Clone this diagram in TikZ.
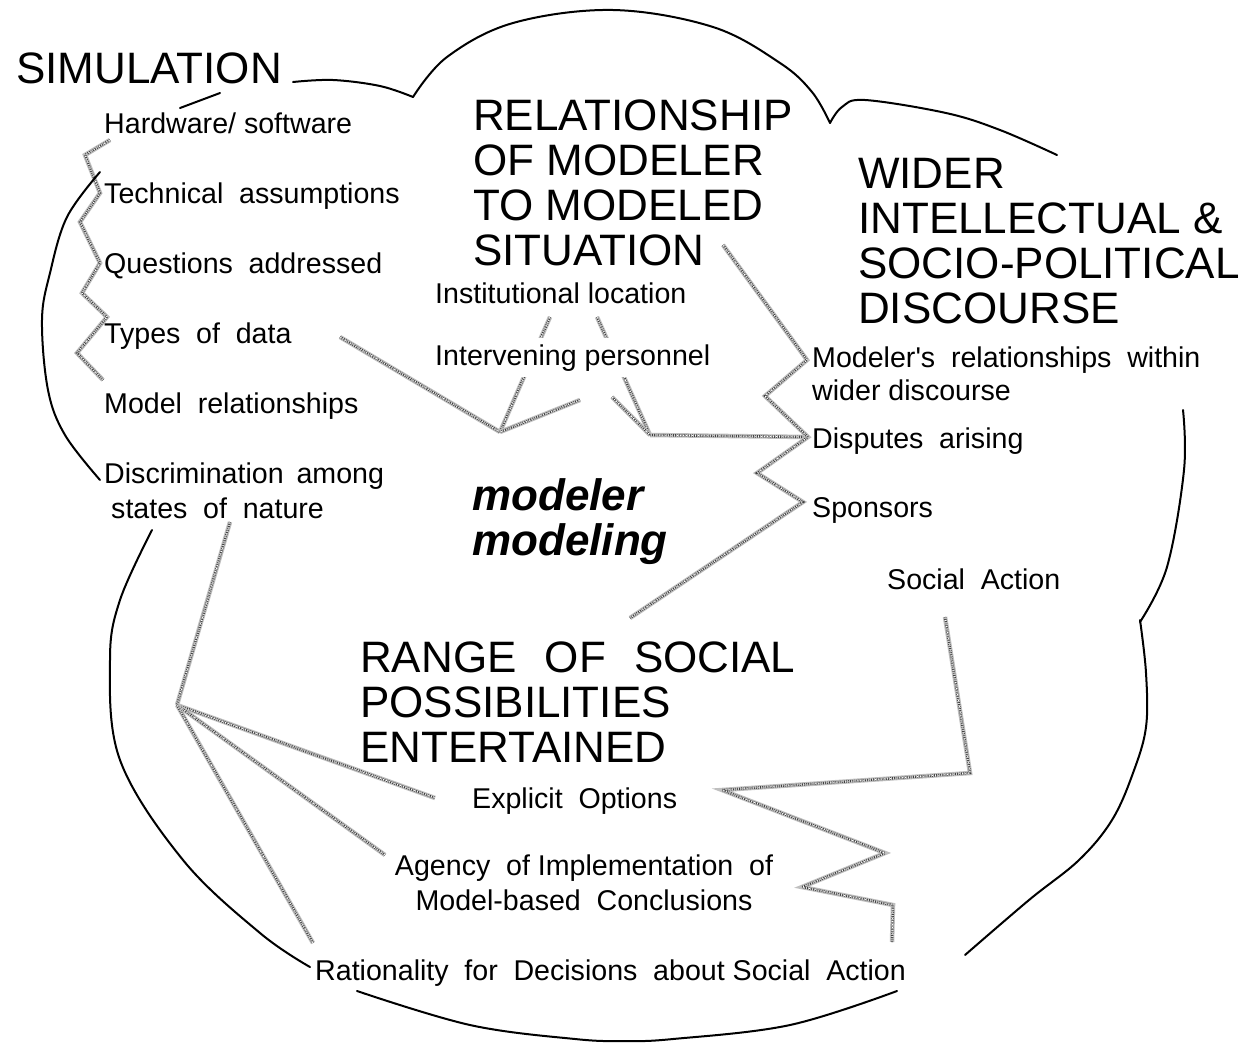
\documentclass[tikz,border=0pt]{standalone}
\usepackage{fontspec}
\setmainfont{Liberation Sans}
\newcommand{\dsp}{\hspace{0.55em}}
\begin{document}
\begin{tikzpicture}[x=1pt,y=-1pt,
 item/.style={anchor=base west, inner sep=0pt, align=left, font=\fontsize{28.6}{35}\selectfont},
 head/.style={anchor=base west, inner sep=0pt, align=left, font=\fontsize{44}{45}\selectfont},
 cloudline/.style={line width=2pt, line cap=round},
 zig/.style={draw=gray!50, line width=4.5pt, line join=miter,
   postaction={draw=black!75, line width=2.4pt, dash pattern=on 0.9pt off 1.2pt},
   postaction={draw=white, line width=0.8pt, dash pattern=on 1pt off 2pt}}]
\useasboundingbox (0,0) rectangle (1249,1042);

% ---------- named points of connectors ----------
\coordinate (z1a) at (110,140); \coordinate (z1b) at (85,155);
\coordinate (z1c) at (100,193); \coordinate (z1d) at (80,222);
\coordinate (z1e) at (100,263); \coordinate (z1f) at (82,293);
\coordinate (z1g) at (107,317); \coordinate (z1h) at (77,353);
\coordinate (z1i) at (103,380);
\coordinate (tdE) at (340,337);
\coordinate (V1) at (500,432); \coordinate (V2) at (650,435);
\coordinate (in1) at (550,317); \coordinate (in2) at (597,317);
\coordinate (ip1) at (580,400); \coordinate (ip2) at (612,397);
\coordinate (dsW) at (808,437);
\coordinate (siE) at (723,245); \coordinate (mrW) at (807,360);
\coordinate (r1) at (765,396); \coordinate (r2) at (757,473);
\coordinate (spW) at (803,502); \coordinate (rgN) at (630,618);
\coordinate (snS) at (230,522); \coordinate (V3) at (177,705);
\coordinate (eoW) at (435,798); \coordinate (agW) at (385,855);
\coordinate (raN) at (313,943);
\coordinate (saS) at (945,617); \coordinate (s1) at (970,773);
\coordinate (s2) at (722,790); \coordinate (s3) at (885,853);
\coordinate (s4) at (802,887); \coordinate (s5) at (893,905);
\coordinate (s6) at (892,942);

% ---------- connectors ----------
\draw[zig] (z1a) -- (z1b) -- (z1c) -- (z1d) -- (z1e) -- (z1f) -- (z1g) -- (z1h) -- (z1i);
\draw[zig] (tdE) -- (V1);
\draw[zig] (in1) -- (V1);
\draw[zig] (ip1) -- (V1);
\draw[zig] (in2) -- (V2);
\draw[zig] (ip2) -- (V2);
\draw[zig] (V2) -- (dsW);
\draw[zig] (siE) -- (mrW) -- (r1) -- (dsW) -- (r2) -- (spW) -- (rgN);
\draw[zig] (snS) -- (V3);
\draw[zig] (V3) -- (eoW);
\draw[zig] (V3) -- (agW);
\draw[zig] (V3) -- (raN);
\draw[zig] (saS) -- (s1) -- (s2) -- (s3) -- (s4) -- (s5) -- (s6);

% ---------- cloud outline ----------
\draw[cloudline] plot[smooth, tension=0.6] coordinates {(293,82) (333,80) (380,86) (413,97)};
\draw[cloudline] plot[smooth, tension=0.6] coordinates {(413,97) (447,57) (513,23) (613,10) (713,27) (780,63) (812,92) (830,123)};
\draw[cloudline] plot[smooth, tension=0.6] coordinates {(830,123) (842,107) (865,100) (946,113) (1000,130) (1057,155)};
\draw[cloudline] plot[smooth, tension=0.6] coordinates {(1183,410) (1184,470) (1167,567) (1140,622)};
\draw[cloudline] plot[smooth, tension=0.6] coordinates {(1140,620) (1146,673) (1146,727) (1133,773) (1112,820) (1079,860) (1029,900) (965,955)};
\draw[cloudline] plot[smooth, tension=0.6] coordinates {(357,991) (470,1025) (575,1039) (625,1041) (673,1039) (790,1025) (897,991)};
\draw[cloudline] plot[smooth, tension=0.6] coordinates {(152,530) (120,600) (110,660) (120,760) (183,860) (260,933) (310,967)};
\draw[cloudline] plot[smooth, tension=0.6] coordinates {(100,172) (67,217) (50,273) (42,320) (48,390) (65,435) (100,480)};
\draw[cloudline] (180,108) -- (220,93);

% ---------- texts ----------
\node[head] (sim) at (16,83) {SIMULATION};
\node[item] (hw) at (104,133) {Hardware/ software};
\node[item] (ta) at (104,203) {Technical\dsp assumptions};
\node[item] (qa) at (104,273) {Questions\dsp addressed};
\node[item] (td) at (104,343) {Types\dsp of\dsp data};
\node[item] (mr) at (104,413) {Model\dsp relationships};
\node[item] (dis) at (104,518) {Discrimination\hspace{0.45em}among\\\hspace{7pt}states\dsp of\dsp nature};

\node[head] (rel) at (473,265) {RELATIONSHIP\\OF MODELER\\TO MODELED\\SITUATION};
\node[item] (inst) at (435,303) {Institutional location};
\node[item, fill=white, inner xsep=4pt, inner ysep=6pt] (interv) at (431,365) {Intervening personnel};

\node[head] (wid) at (858,323) {WIDER\\INTELLECTUAL \&\\SOCIO-POLITICAL\\DISCOURSE};
\node[item, font=\fontsize{28.6}{33}\selectfont] (mrel) at (812,400) {Modeler\textquotesingle s\dsp relationships\dsp within\\wider discourse};
\node[item] (disp) at (812,448) {Disputes\dsp arising};
\node[item] (spon) at (812,517) {Sponsors};
\node[item] (sact) at (887,589) {Social\dsp Action};

\node[head, font=\fontsize{44}{45}\selectfont\bfseries\itshape] (mm) at (472,555) {modeler\\modeling};

\node[head] (rng) at (360,762) {RANGE\hspace{0.64em}OF\hspace{0.64em}SOCIAL\\POSSIBILITIES\\ENTERTAINED};
\node[item] (eo) at (472,808) {Explicit\dsp Options};
\node[item, anchor=base, align=center] (ag) at (584,910) {Agency\dsp of Implementation\dsp of\\Model-based\dsp Conclusions};
\node[item] (rat) at (315,980) {Rationality\dsp for\dsp Decisions\dsp about Social\dsp Action};
\end{tikzpicture}
\end{document}
